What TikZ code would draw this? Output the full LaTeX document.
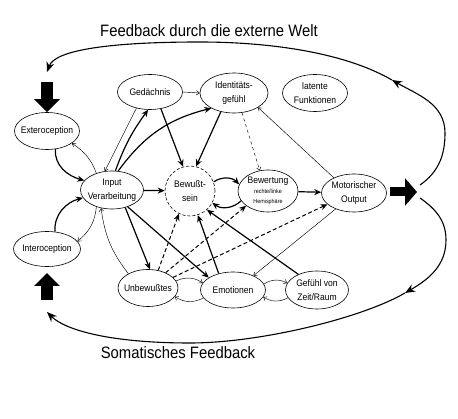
\documentclass[tikz,border=0pt]{standalone}
\usepackage{fontspec}
\setmainfont{Liberation Sans}
\newfontfamily\nf[FakeStretch=0.9]{Liberation Sans}
\usetikzlibrary{arrows.meta,shapes.geometric}
\begin{document}
\begin{tikzpicture}[x=1pt,y=1pt,
  ell/.style={ellipse, draw, line width=0.6pt, inner sep=-30pt, align=center,
    font=\nf\fontsize{9.5}{14}\selectfont},
  thk/.style={line width=1.2pt, -{Stealth[length=7pt,width=6pt]}},
  thn/.style={line width=0.45pt, -{Straight Barb[length=3pt,width=4.5pt]}},
  dsh/.style={thk, line width=1pt, dash pattern=on 4pt off 2.5pt},
  bigv/.style={line width=12pt, -{Triangle[length=13pt,width=25pt]}},
  bigh/.style={line width=9pt, -{Triangle[length=12pt,width=27pt]}},
  fbk/.style={line width=1.1pt, -{Stealth[length=10pt,width=8pt]}},
  ttl/.style={inner sep=0pt, font=\nf\fontsize{16.5}{18}\selectfont}
]
\fill[white] (0,0) rectangle (458,-419);
\useasboundingbox (0,0) rectangle (458,-419);

% nodes
\node[ell, minimum width=65pt, minimum height=37pt] (ext) at (47,-131) {Exteroception};
\node[ell, minimum width=67pt, minimum height=35pt] (intr) at (47,-249) {Interoception};
\node[ell, minimum width=63pt, minimum height=38pt] (inp) at (112,-190) {Input\\Verarbeitung};
\node[ell, minimum width=65pt, minimum height=35pt] (ged) at (150,-92) {Gedächnis};
\node[ell, minimum width=68pt, minimum height=40pt] (ide) at (234,-93) {Identitäts-\\gefühl};
\node[ell, minimum width=65pt, minimum height=37pt] (lat) at (315,-93) {latente\\Funktionen};
\node[ell, dash pattern=on 3pt off 2pt, minimum width=50pt, minimum height=50pt] (bew) at (190,-191) {Bewußt-\\sein};
\node[ell, minimum width=60pt, minimum height=42pt] (bwt) at (268,-191)
  {Bewertung\\[-4pt]{\fontsize{6}{7}\selectfont rechte/linke}\\[-4pt]{\fontsize{6}{7}\selectfont Hemisphäre}};
\node[ell, minimum width=65pt, minimum height=38pt] (mot) at (354,-193) {Motorischer\\Output};
\node[ell, minimum width=60pt, minimum height=37pt] (unb) at (148,-288) {Unbewußtes};
\node[ell, minimum width=65pt, minimum height=36pt] (emo) at (233,-290) {Emotionen};
\node[ell, minimum width=63pt, minimum height=38pt] (gef) at (317,-290) {Gefühl von\\Zeit/Raum};

% titles
\node[ttl] (t1) at (209,-31) {Feedback durch die externe Welt};
\node[ttl] (t2) at (178,-352.5) {Somatisches Feedback};

% connectors
\draw[thk] (ext.-65) to[out=-95,in=165] (inp.161);
\draw[thn] (inp.133) to[out=110,in=-35] (ext.-26);
\draw[thk] (intr.65) to[out=95,in=195] (inp.195);
\draw[thn] (inp.-133) to[out=-95,in=40] (intr.14);
\draw[thk] (inp.80) to[bend left=8] (ged.-96);
\draw[thn] (ged.-130) -- (inp.111);
\draw[thk] (inp.72) to[bend left=20] (ide.214);
\draw[thn] (ged.east) -- (ide.west);
\draw[thk] (ged.-57) -- (bew.106);
\draw[thk] (ide.-125) -- (bew.76);
\draw[thn, dashed] (ide.-68) -- (bwt.112);
\draw[thn] (mot.143) -- (ide.-31);
\draw[thk] (inp) -- (bew);
\draw[thk] (bew.21) to[bend left=40] (bwt.167);
\draw[thk] (bwt.200) to[bend left=40] (bew.-28);
\draw[thk] (bwt) -- (mot);
\draw[thk] (inp.-53) -- (unb.84);
\draw[thk] (inp.-47) -- (emo.153);
\draw[thn] (unb.144) to[bend left=15] (inp.-121);
\draw[dsh] (unb.60) -- (bew.-116);
\draw[dsh] (unb.41) -- (bwt.214);
\draw[dsh] (unb.23) -- (mot.203);
\draw[thk] (emo.131) -- (bew.-72);
\draw[thk] (gef.140) -- (bew.-48);
\draw[thn] (mot.-139) -- (emo.35);
\draw[thn] (unb.14) to[bend left=30] (emo.167);
\draw[thn] (emo.195) to[bend left=30] (unb.-18);
\draw[thn] (emo.11) to[bend left=30] (gef.167);
\draw[thn] (gef.195) to[bend left=30] (emo.-13);

% big arrows
\coordinate (dtop) at (47,-82);
\draw[bigv] (dtop) -- (ext.north);
\coordinate (ubot) at (47,-300);
\coordinate (utip) at (47,-273);
\draw[bigv] (ubot) -- (utip);
\coordinate (rtail) at (390,-192);
\coordinate (rtip) at (417,-192);
\draw[bigh] (rtail) -- (rtip);

% feedback loops
\coordinate (fa) at (420,-185);
\coordinate (fb) at (445,-133);
\coordinate (fc) at (392,-80);
\coordinate (fd) at (200,-42);
\coordinate (fe) at (47,-72);
\draw[fbk] (fa) to[out=35,in=-90] (fb) to[out=90,in=-30] (fc);
\draw[fbk] (fc) .. controls (340,-50) and (260,-42) .. (fd)
           .. controls (110,-42) and (55,-50) .. (fe);
\coordinate (ga) at (420,-198);
\coordinate (gb) at (446,-240);
\coordinate (gc) at (405,-293);
\coordinate (gd) at (190,-343);
\coordinate (ge) at (47,-312);
\draw[fbk] (ga) to[out=-35,in=90] (gb) to[out=-90,in=30] (gc);
\draw[fbk] (gc) .. controls (362,-318) and (260,-343) .. (gd)
           .. controls (110,-343) and (65,-330) .. (ge);
\end{tikzpicture}
\end{document}
